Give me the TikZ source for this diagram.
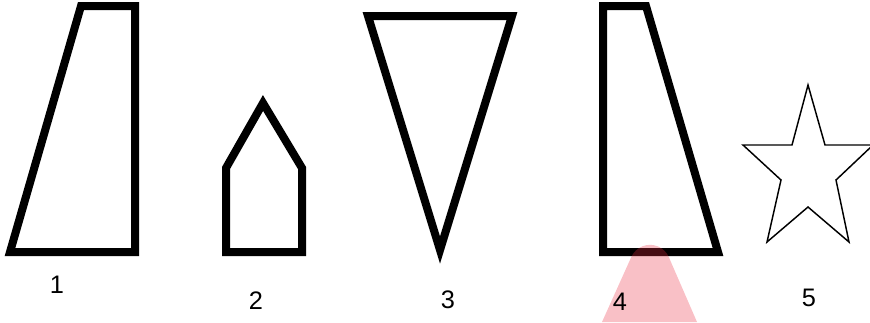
\documentclass[tikz,border=0pt]{standalone}
\usepackage{fontspec}
\setmainfont{Liberation Sans}
\begin{document}
\begin{tikzpicture}[x=0.75pt, y=-0.75pt, outline/.style={draw=black, line width=6pt, line join=miter},
    every node/.style={font=\fontsize{19}{22}\selectfont, inner sep=0pt}]
        \useasboundingbox (0,0) rectangle (870,322);
        \draw[outline] (81,6) -- (135,6) -- (135,252) -- (10,252) -- cycle;
        \draw[outline] (226,252) -- (226,168) -- (263,103) -- (302,168) -- (302,252) -- cycle;
        \draw[outline] (368,16) -- (512,16) -- (440,250) -- cycle;
        \draw[outline] (603,6) -- (646,6) -- (718,252) -- (603,252) -- cycle;
        \draw[line width=1.1pt, line join=miter] (808,85) -- (825,145) -- (873,145) -- (836,180) -- (849,242)
            -- (808,207) -- (767,242) -- (781,180) -- (743,145) -- (792,145) -- cycle;
        \fill[fill={rgb,255:red,235;green,45;blue,65}, opacity=0.3]
            (602,322) -- (631.3,257) arc[start angle=204, end angle=336, radius=20.5] -- (697,322) -- cycle;
        \node (1) at (57,285) {1};
        \node (2) at (256,301) {2};
        \node (3) at (448,300) {3};
        \node (4) at (620,302) {4};
        \node (5) at (809,298) {5};
    \end{tikzpicture}
\end{document}
